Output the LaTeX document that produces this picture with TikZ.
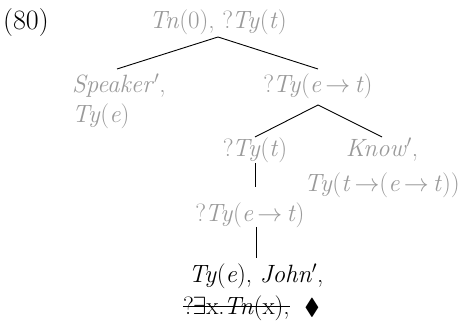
\documentclass[tikz,border=0pt]{standalone}
\usepackage{amssymb}
\definecolor{lbl}{HTML}{9A9A9A}
\newcommand{\qm}{?\kern-1.5pt}
\begin{document}
\begin{tikzpicture}[x=1pt,y=-1pt,
  every node/.style={inner sep=0pt,anchor=base,font=\fontsize{25}{29}\selectfont},
  g/.style={text=lbl},
  edge/.style={line width=0.9pt}]
\useasboundingbox (0,0) rectangle (464,323);
\node[font=\fontsize{28}{32}\selectfont] (num) at (26,30) {(80)};
\node[g] (root) at (218,29) {\textit{Tn}(0), \qm\textit{Ty}(\textit{t})};
\node[g,anchor=base west] (spk) at (72,93) {\textit{Speaker}$'$,};
\node[g,anchor=base west] (spk2) at (72,123) {\textit{Ty}(\textit{e})};
\node[g] (pet) at (318,93) {\qm\textit{Ty}(\textit{e}\,$\rightarrow$\,\textit{t})};
\node[g] (qt) at (255,157) {\qm\textit{Ty}(\textit{t})};
\node[g] (know) at (382,157) {\textit{Know}$'$,};
\node[g] (know2) at (382,192) {\textit{Ty}(\textit{t}\,$\rightarrow$(\textit{e}\,$\rightarrow$\,\textit{t}))};
\node[g] (pet2) at (250,222) {\qm\textit{Ty}(\textit{e}\,$\rightarrow$\,\textit{t})};
\node (john) at (256,283) {\textit{Ty}(\textit{e}), \textit{John}$'$,};
\node[anchor=base west] (exs) at (183,315) {\qm$\exists$x.\kern-1pt\textit{Tn}(x),};
\node[font=\fontsize{23}{26}\selectfont] (dia) at (312,315) {$\blacklozenge$};
\draw[edge] ([yshift=9pt]exs.base west) -- ([yshift=9pt]exs.base east);
\draw[edge] ([yshift=-8pt]root.base) -- ([xshift=45pt,yshift=24pt]spk.base west);
\draw[edge] ([yshift=-8pt]root.base) -- ([yshift=24pt]pet.base);
\draw[edge] ([yshift=-12pt]pet.base) -- ([yshift=20pt]qt.base);
\draw[edge] ([yshift=-12pt]pet.base) -- ([yshift=20pt]know.base);
\draw[edge] ([yshift=-6pt]qt.base) -- ([yshift=35pt]pet2.base -| qt.base);
\draw[edge] ([yshift=-5pt]pet2.base -| john.base) -- ([yshift=25pt]john.base);
\end{tikzpicture}
\end{document}
